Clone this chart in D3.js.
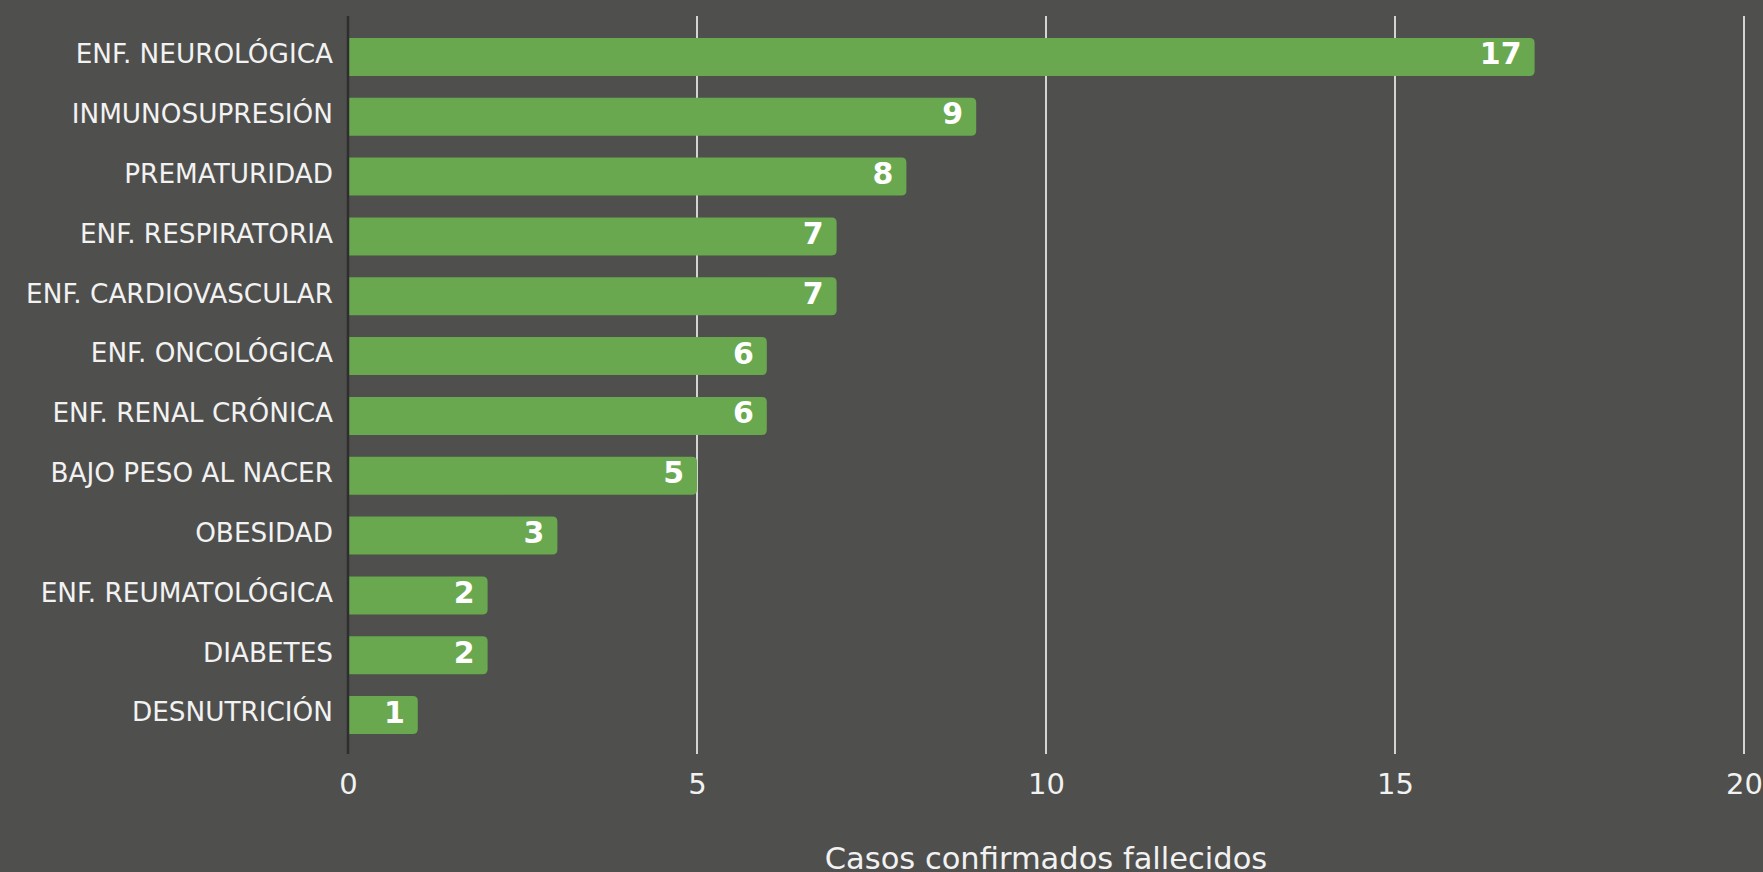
<!DOCTYPE html>
<html><head><meta charset="utf-8">
<script src="https://cdn.jsdelivr.net/npm/d3@7"></script>
<style>html,body{margin:0;padding:0;background:#4f4f4d;overflow:hidden}</style>
</head><body><svg id="c" width="1763" height="872"></svg>
<script>
const categories = ["ENF. NEUROLÓGICA","INMUNOSUPRESIÓN","PREMATURIDAD","ENF. RESPIRATORIA","ENF. CARDIOVASCULAR","ENF. ONCOLÓGICA","ENF. RENAL CRÓNICA","BAJO PESO AL NACER","OBESIDAD","ENF. REUMATOLÓGICA","DIABETES","DESNUTRICIÓN"];
const values = [17,9,8,7,7,6,6,5,3,2,2,1];
const xTicks = [0,5,10,15,20];
const xTitle = "Casos confirmados fallecidos";

const svg = d3.select("#c");
const W = 1763, H = 872;
svg.append("rect").attr("width",W).attr("height",H).attr("fill","#4f4f4d");
const x = d3.scaleLinear().domain([0,20]).range([348,1744]);
const y = d3.scaleBand().domain(categories).range([27,745]).paddingInner(0.365).paddingOuter(0.1825);
const font = "'DejaVu Sans', Verdana, sans-serif";

// gridlines
svg.append("g").selectAll("line").data(xTicks.filter(d=>d>0)).join("line")
  .attr("x1",d=>x(d)).attr("x2",d=>x(d)).attr("y1",16).attr("y2",754)
  .attr("stroke","#d4d4d4").attr("stroke-width",2);

// bars with rounded right corners
const r = 5;
svg.append("g").selectAll("path").data(values).join("path")
  .attr("d",(d,i)=>{
    const x0 = x(0), x1 = x(d), y0 = y(categories[i]), h = y.bandwidth();
    return `M${x0},${y0}H${x1-r}Q${x1},${y0} ${x1},${y0+r}V${y0+h-r}Q${x1},${y0+h} ${x1-r},${y0+h}H${x0}Z`;
  })
  .attr("fill","#6aa84f");

// y axis line
svg.append("line").attr("x1",x(0)).attr("x2",x(0)).attr("y1",16).attr("y2",754)
  .attr("stroke","#2e2e2e").attr("stroke-width",2.5);

// category labels
const yAxis = d3.axisLeft(y).tickSize(0).tickPadding(15);
const gy = svg.append("g").attr("transform",`translate(${x(0)},0)`).call(yAxis);
gy.select(".domain").remove();
gy.selectAll("text").attr("fill","#f2f2f2").attr("font-family",font).attr("font-size",26.3).attr("dy","0.24em");

// value labels
svg.append("g").selectAll("text").data(values).join("text")
  .attr("x",d=>x(d)-13).attr("y",(d,i)=>y(categories[i])+y.bandwidth()/2)
  .attr("dy","0.25em").attr("text-anchor","end")
  .attr("fill","#ffffff").attr("font-family",font).attr("font-weight","bold").attr("font-size",30)
  .text(d=>d);

// x axis labels
const xAxis = d3.axisBottom(x).tickValues(xTicks).tickSize(0).tickPadding(0).tickFormat(d3.format("d"));
const gx = svg.append("g").attr("transform",`translate(0,794)`).call(xAxis);
gx.select(".domain").remove();
gx.selectAll("text").attr("fill","#f2f2f2").attr("font-family",font).attr("font-size",29).attr("dy","0").attr("y",0);

// x title
svg.append("text").attr("x",(x(0)+x(20))/2).attr("y",869).attr("text-anchor","middle")
  .attr("fill","#f2f2f2").attr("font-family",font).attr("font-size",30.5).text(xTitle);
</script></body></html>
